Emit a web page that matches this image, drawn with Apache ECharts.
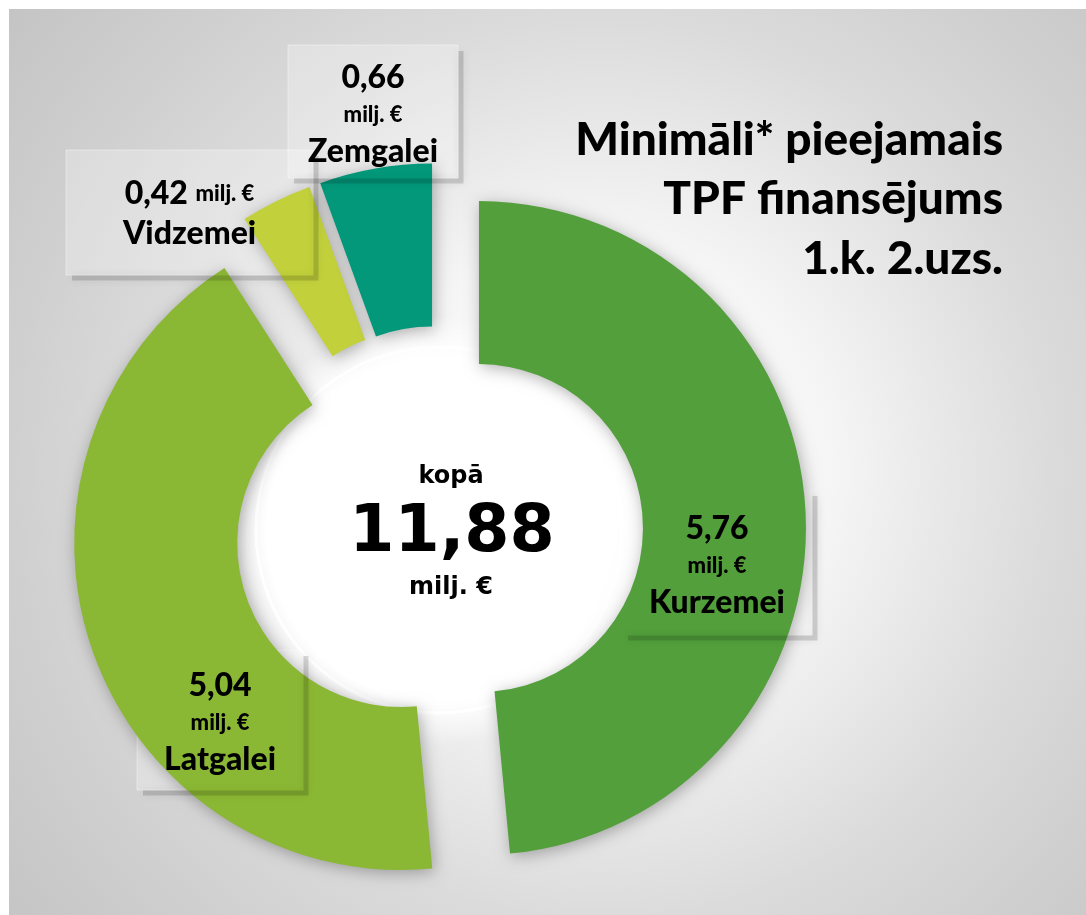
<!DOCTYPE html>
<html>
<head>
<meta charset="UTF-8" />
<title>TPF finansējums</title>
<style type="text/css">
body,html{margin:0;padding:0;border:0;width:100%;height:100%;overflow:hidden;background:#fff;}
#chartContainer{width:1086px;height:915px;}
</style>
<script src="https://cdn.jsdelivr.net/npm/echarts@6/dist/echarts.min.js"></script>
</head>
<body>
<div id="chartContainer"></div>
<script type="text/javascript">
// data
var regions = ['Kurzemei', 'Latgalei', 'Vidzemei', 'Zemgalei'];
var amounts = [5.76, 5.04, 0.42, 0.66];
var colors = ['#529f3b', '#8bb834', '#c2d13b', '#03987a'];
var unit = 'milj. €';
var titleLines = ['Minimāli* pieejamais', 'TPF finansējums', '1.k. 2.uzs.'];
var totalLabel = 'kopā';

// label boxes (layout only)
var boxes = [
    { x: 622, y: 490, w: 190, h: 145 },
    { x: 137, y: 650, w: 166, h: 140 },
    { x: 66,  y: 150, w: 247, h: 125 },
    { x: 288, y: 45,  w: 170, h: 133 }
];
var cx = 439, cy = 530;

function fmt(v){ return v.toFixed(2).replace('.', ','); }

var richStyle = {
    v: { font: '900 32px Lato', lineHeight: 37, fill: '#000' },
    u: { font: '900 22px Lato', lineHeight: 37, fill: '#000' },
    n: { font: '900 32px Lato', lineHeight: 37, fill: '#000' },
    n2: { font: '900 32px Lato', lineHeight: 44, fill: '#000' }
};

function buildChart()
{
    var total = 0, data = [], graphics = [];
    for (var i = 0; i < amounts.length; i++) {
        total += amounts[i];
        data.push({ name: regions[i], value: amounts[i], selected: true, itemStyle: { color: colors[i] } });
    }

    graphics.push({
        type: 'rect', z: 0,
        shape: { x: 9, y: 9, width: 1077, height: 906 },
        style: { fill: new echarts.graphic.RadialGradient(600, 470, 780, [
            { offset: 0, color: '#ffffff' },
            { offset: 0.3, color: '#f5f5f5' },
            { offset: 0.58, color: '#dbdbdb' },
            { offset: 0.75, color: '#d0d0d0' },
            { offset: 1, color: '#c2c2c2' }
        ], true) }
    });
    graphics.push({
        type: 'circle', z: 1,
        shape: { cx: cx, cy: cy, r: 215 },
        style: { fill: new echarts.graphic.RadialGradient(0.5, 0.5, 0.5, [
            { offset: 0, color: 'rgba(255,255,255,1)' },
            { offset: 0.8, color: 'rgba(255,255,255,1)' },
            { offset: 1, color: 'rgba(255,255,255,0)' }
        ]) }
    });
    graphics.push({
        type: 'circle', z: 1,
        shape: { cx: cx, cy: cy, r: 183 },
        style: { fill: null, stroke: 'rgba(255,255,255,1)', lineWidth: 3 }
    });
    boxes.forEach(function(b, k){
        graphics.push({
            type: 'rect', z: 1,
            shape: { x: b.x, y: b.y, width: b.w, height: b.h },
            style: { fill: 'rgba(255,255,255,0.28)', stroke: 'rgba(255,255,255,0.4)', lineWidth: 1 }
        });
        graphics.push({
            type: 'polyline', z: 5,
            shape: { points: [[b.x + 6, b.y + b.h + 3], [b.x + b.w + 3, b.y + b.h + 3], [b.x + b.w + 3, b.y + 6]] },
            style: { fill: null, stroke: 'rgba(0,0,0,0.14)', lineWidth: 5, shadowBlur: 9, shadowColor: 'rgba(0,0,0,0.5)', shadowOffsetX: 0, shadowOffsetY: 0 }
        });
        // label text from the data arrays
        var txt = k === 2
            ? '{v|' + fmt(amounts[k]) + '} {u|' + unit + '}\n{n2|' + regions[k] + '}'
            : '{v|' + fmt(amounts[k]) + '}\n{u|' + unit + '}\n{n|' + regions[k] + '}';
        graphics.push({
            type: 'text', z: 6,
            x: b.x + b.w / 2, y: b.y + b.h / 2 + 3,
            style: { text: txt, rich: richStyle, align: 'center', verticalAlign: 'middle', fill: '#000', font: '900 32px Lato' }
        });
    });
    // centre total
    graphics.push({ type: 'text', z: 6, x: 451, y: 477,
        style: { text: totalLabel, font: 'bold 24px "DejaVu Sans"', fill: '#000', align: 'center', verticalAlign: 'middle' } });
    graphics.push({ type: 'text', z: 6, x: 452, y: 534,
        style: { text: fmt(total), font: 'bold 65px "DejaVu Sans"', fill: '#000', align: 'center', verticalAlign: 'middle' } });
    graphics.push({ type: 'text', z: 6, x: 451, y: 588,
        style: { text: unit, font: 'bold 24px "DejaVu Sans"', fill: '#000', align: 'center', verticalAlign: 'middle' } });
    // title
    titleLines.forEach(function(t, k){
        graphics.push({ type: 'text', z: 6, x: 1003, y: 163 + k * 59.5,
            style: { text: t, font: '900 46px Lato', fill: '#000', align: 'right', verticalAlign: 'bottom' } });
    });

    var option = {
        animation: false,
        graphic: { elements: graphics },
        series: [
            {
                type: 'pie', z: 2,
                center: [cx, cy],
                radius: [164, 327],
                startAngle: 90,
                clockwise: true,
                selectedMode: 'multiple',
                selectedOffset: 40,
                emphasis: { disabled: true },
                itemStyle: { shadowBlur: 16, shadowColor: 'rgba(0,0,0,0.3)', shadowOffsetX: 2, shadowOffsetY: 3 },
                label: { show: false },
                labelLine: { show: false },
                data: data
            }
        ]
    };

    var chart = echarts.init(document.getElementById('chartContainer'));
    chart.setOption(option);
}
buildChart();
</script>
</body>
</html>
